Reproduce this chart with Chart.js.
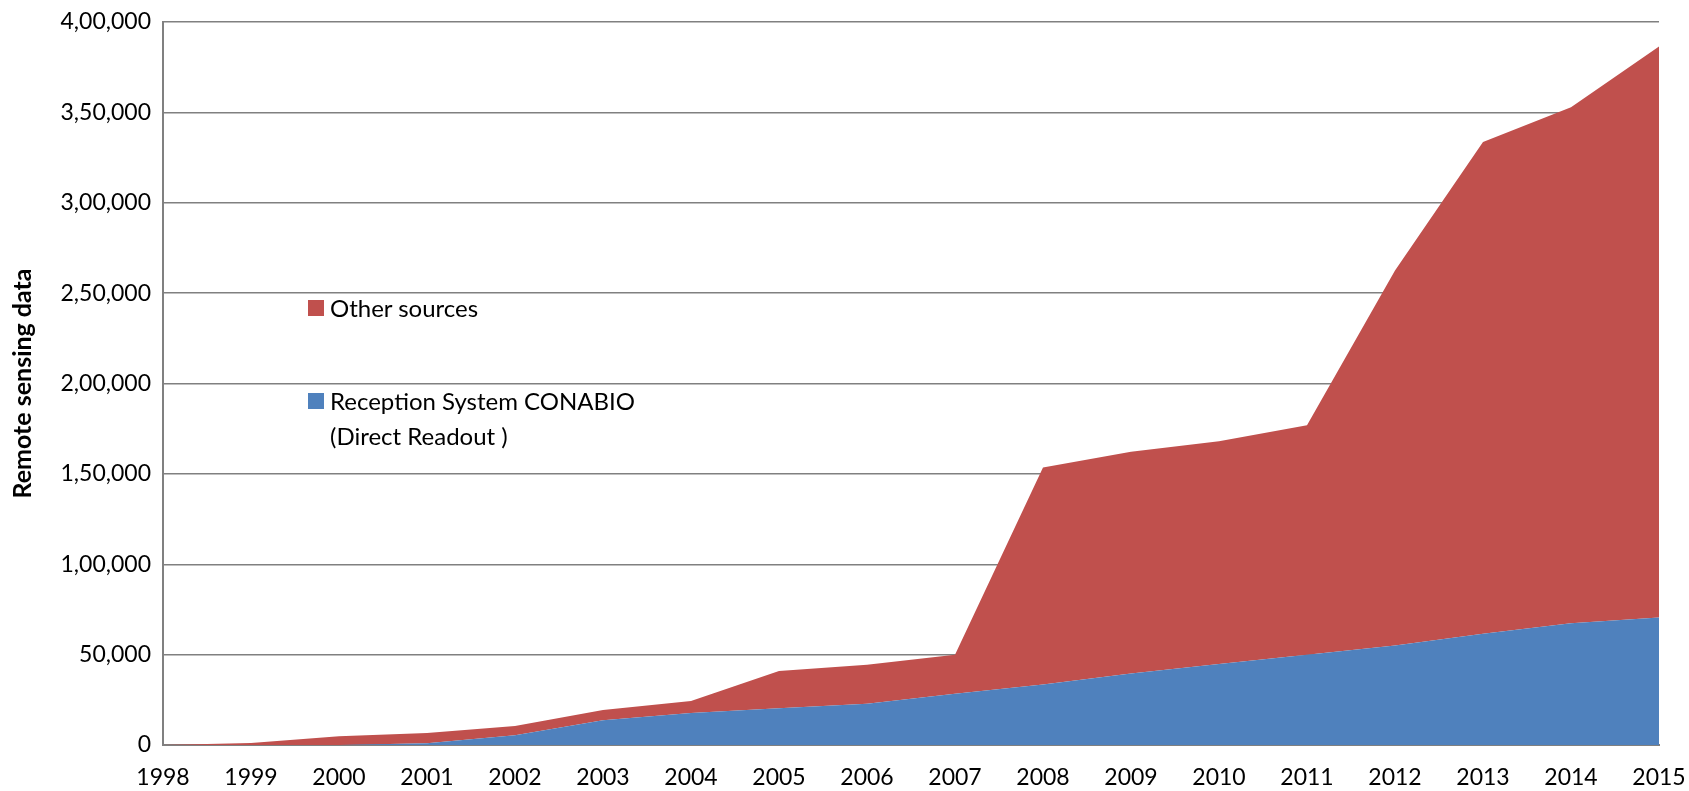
<!DOCTYPE html>
<html>
<head>
<meta charset="utf-8">
<script src="https://cdn.jsdelivr.net/npm/chart.js"></script>
<style>
  body { margin: 0; background: #fff; }
  #wrap { position: relative; width: 1689px; height: 791px; }
  #legend { position: absolute; left: 308px; top: 290px; font-family: Lato, sans-serif; font-size: 24px; color: #000; }
  .item { position: relative; padding-left: 22px; line-height: 35px; }
  .item .box { position: absolute; left: 0; top: 10px; width: 16px; height: 16px; }
</style>
</head>
<body>
<div id="wrap">
  <canvas id="areaChart" width="1689" height="791"></canvas>
  <div id="legend">
    <div class="item"><span class="box" style="background:#C0504D"></span>Other sources</div>
    <div class="item" style="margin-top:58px"><span class="box" style="background:#4F81BD"></span>Reception System CONABIO<br>(Direct Readout )</div>
  </div>
</div>
<script>
// 年
var years = ['1998', '1999', '2000', '2001', '2002', '2003', '2004', '2005', '2006',
             '2007', '2008', '2009', '2010', '2011', '2012', '2013', '2014', '2015'];
// Reception System CONABIO (Direct Readout)
var reception = [0, 0, 0, 1000, 5400, 13700, 17700, 20300, 22800,
                 28300, 33500, 39500, 44800, 50000, 55000, 61500, 67300, 70500];
// Other sources
var otherSources = [0, 1100, 4800, 5700, 5100, 5600, 6600, 20700, 21600,
                    21700, 120000, 122800, 123300, 126900, 207500, 272100, 285600, 316000];

var gridColor = '#808080';

var ctx = document.getElementById('areaChart').getContext('2d');
var chart = new Chart(ctx, {
  type: 'line',
  data: {
    labels: years,
    datasets: [{
      label: 'Reception System CONABIO (Direct Readout )',
      data: reception,
      backgroundColor: '#4F81BD',
      borderWidth: 0,
      pointRadius: 0,
      fill: 'origin'
    }, {
      label: 'Other sources',
      data: otherSources,
      backgroundColor: '#C0504D',
      borderWidth: 0,
      pointRadius: 0,
      fill: '-1'
    }]
  },
  options: {
    responsive: false,
    animation: false,
    layout: { padding: { top: 22, right: 30, left: 0, bottom: 0 } },
    plugins: {
      legend: { display: false },
      tooltip: { enabled: false }
    },
    scales: {
      x: {
        offset: false,
        grid: { display: false, drawTicks: false },
        border: { display: true, color: gridColor, width: 2 },
        ticks: {
          color: '#000',
          font: { family: 'Lato', size: 23 },
          padding: 19,
          maxRotation: 0,
          autoSkip: false
        },
        afterFit: function(scale) {
          scale.height = 46;
          scale.paddingLeft = 0;
          scale.paddingRight = 0;
        }
      },
      y: {
        stacked: true,
        min: 0,
        max: 400000,
        grid: { color: gridColor, lineWidth: 1.5, drawTicks: false },
        border: { display: true, color: gridColor, width: 2 },
        ticks: {
          stepSize: 50000,
          color: '#000',
          padding: 12,
          font: { family: 'Lato', size: 23 },
          callback: function(v) { return Number(v).toLocaleString('en-IN'); }
        },
        title: {
          display: true,
          text: 'Remote sensing data',
          color: '#000',
          font: { family: 'Lato', size: 25, weight: 'bold' },
          padding: { top: 8, bottom: 0 }
        },
        afterFit: function(scale) {
          scale.width = 163;
          scale.paddingTop = 0;
          scale.paddingBottom = 0;
        }
      }
    }
  }
});
</script>
</body>
</html>
